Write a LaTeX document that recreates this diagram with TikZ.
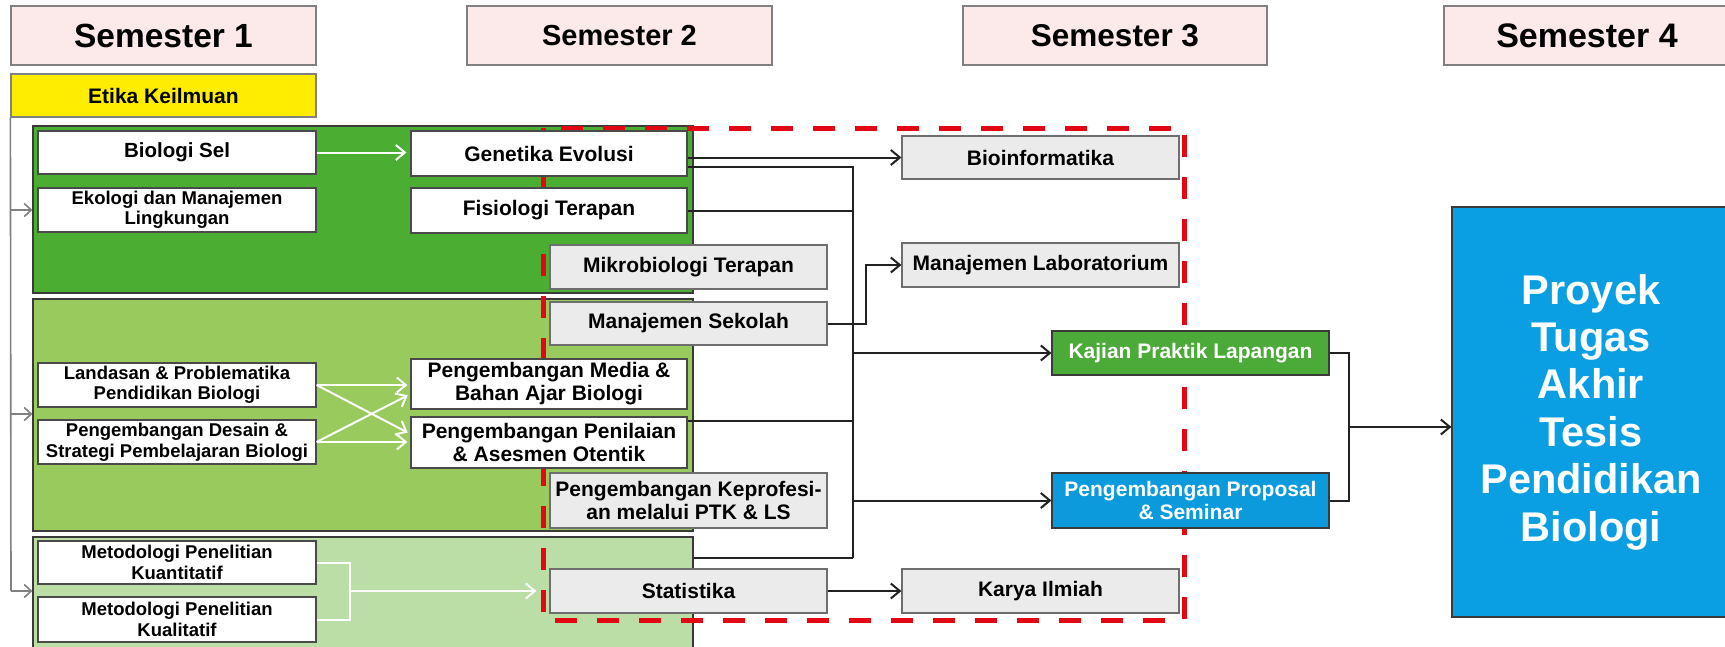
\documentclass[tikz,border=0pt]{standalone}
\usepackage{fontspec}
\setmainfont{Liberation Sans}
\usetikzlibrary{arrows.meta}
\definecolor{hdrfill}{HTML}{FCE9E9}
\definecolor{hdrline}{HTML}{808080}
\definecolor{yel}{HTML}{FFED00}
\definecolor{gone}{HTML}{4BAE32}
\definecolor{gtwo}{HTML}{99CA5D}
\definecolor{gthree}{HTML}{BBDDA6}
\definecolor{grpline}{HTML}{3A3A3A}
\definecolor{boxline}{HTML}{4A4A4A}
\definecolor{gboxfill}{HTML}{EBEBEB}
\definecolor{gboxline}{HTML}{6E6E6E}
\definecolor{kajfill}{HTML}{4CAA38}
\definecolor{propfill}{HTML}{0B9ADB}
\definecolor{bigfill}{HTML}{0A9EE2}
\definecolor{dashred}{HTML}{E30613}
\definecolor{lineblack}{HTML}{222222}
\definecolor{leftgray}{HTML}{808080}
\tikzset{
 hdr/.style={draw=hdrline, fill=hdrfill, line width=1.2pt, minimum height=59pt, inner sep=0pt},
 wbox/.style={draw=boxline, fill=white, line width=1.2pt, inner sep=0pt, align=center},
 gbox/.style={draw=gboxline, fill=gboxfill, line width=1.2pt, inner sep=0pt, align=center},
 grp/.style={draw=grpline, line width=1.2pt, inner sep=0pt},
 conn/.style={draw=lineblack, line width=2pt},
 arr/.style={conn, -{Straight Barb[length=9pt,width=15pt]}},
 wline/.style={draw=white, line width=2pt},
 warr/.style={wline, -{Straight Barb[length=9pt,width=15pt]}},
 gline/.style={draw=leftgray, line width=1.6pt},
 garr/.style={gline, -{Straight Barb[length=7pt,width=13pt]}},
 reddash/.style={draw=dashred, line width=5pt, dash pattern=on 22pt off 20pt},
 fA/.style={font=\bfseries\fontsize{21}{23}\selectfont},
 fB/.style={font=\bfseries\fontsize{18.5}{20.5}\selectfont},
 colL/.style={minimum width=278pt},
 colM/.style={minimum width=276pt},
 colG/.style={minimum width=277pt},
}
\begin{document}
\begin{tikzpicture}[x=1pt,y=-1pt]
\useasboundingbox (0,0) rectangle (1725,646);
\fill[white] (0,0) rectangle (1725,646);
% headers
\node[hdr, minimum width=305pt, font=\bfseries\fontsize{33.5}{36}\selectfont] (s1) at (163.5,35.5) {Semester 1};
\node[hdr, minimum width=305pt, font=\bfseries\fontsize{29}{32}\selectfont] (s2) at (619.5,35.5) {Semester 2};
\node[hdr, minimum width=304pt, font=\bfseries\fontsize{31.5}{34}\selectfont] (s3) at (1115,35.5) {Semester 3};
\node[hdr, minimum width=286pt, font=\bfseries\fontsize{34}{36}\selectfont] (s4) at (1587,35.5) {Semester 4};
\node[draw=hdrline, fill=yel, line width=1.2pt, inner sep=0pt, minimum width=305pt, minimum height=43pt, fA] (etika) at (163.5,95.5) {Etika Keilmuan};
% groups
\node[grp, fill=gone, minimum width=660pt, minimum height=167pt] (g1) at (363,209.5) {};
\node[grp, fill=gtwo, minimum width=660pt, minimum height=232pt] (g2) at (363,415) {};
\node[grp, fill=gthree, minimum width=660pt, minimum height=113pt] (g3) at (363,593.5) {};
% red dashed frame
\draw[reddash] (543,128) rectangle (1184,620);
% left column
\node[wbox, colL, minimum height=43pt, font=\bfseries\fontsize{20.5}{22}\selectfont] (biosel) at (177,152.5) {Biologi Sel};
\node[wbox, colL, minimum height=44pt, fB] (ekologi) at (177,210) {Ekologi dan Manajemen\\Lingkungan};
\node[wbox, colL, minimum height=44pt, fB] (landasan) at (177,385) {Landasan \& Problematika\\Pendidikan Biologi};
\node[wbox, colL, minimum height=44pt, fB] (desain) at (177,442) {Pengembangan Desain \&\\Strategi Pembelajaran Biologi};
\node[wbox, colL, minimum height=43pt, fB] (kuan) at (177,562.5) {Metodologi Penelitian\\Kuantitatif};
\node[wbox, colL, minimum height=45pt, fB] (kual) at (177,619.5) {Metodologi Penelitian\\Kualitatif};
% middle column
\node[wbox, colM, minimum height=45pt, fA] (genetika) at (549,153.5) {Genetika Evolusi};
\node[wbox, colM, minimum height=45pt, fA] (fisiologi) at (549,210.5) {Fisiologi Terapan};
\node[wbox, colM, minimum height=50pt, fA] (media) at (549,384) {Pengembangan Media \&\\Bahan Ajar Biologi};
\node[wbox, colM, minimum height=51pt, fA] (penilaian) at (549,442.5) {Pengembangan Penilaian\\\& Asesmen Otentik};
% gray column
\node[gbox, colG, minimum height=44pt, fA] (mikro) at (688.5,267) {Mikrobiologi Terapan};
\node[gbox, colG, minimum height=43pt, fA] (sekolah) at (688.5,323.5) {Manajemen Sekolah};
\node[gbox, colG, minimum height=55pt, fA] (keprof) at (688.5,500.5) {Pengembangan Keprofesi-\\an melalui PTK \& LS};
\node[gbox, colG, minimum height=44pt, fA] (statistika) at (688.5,591) {Statistika};
% semester 3 column
\node[gbox, colG, minimum height=43pt, fA] (bioinf) at (1040.5,157.5) {Bioinformatika};
\node[gbox, colG, minimum height=44pt, fA] (lab) at (1040.5,265) {Manajemen Laboratorium};
\node[gbox, colG, minimum height=44pt, fA] (karya) at (1040.5,591) {Karya Ilmiah};
\node[draw=grpline, fill=kajfill, line width=1.2pt, inner sep=0pt, colG, minimum height=44pt, fA, text=white, align=center] (kajian) at (1190.5,353) {Kajian Praktik Lapangan};
\node[draw=grpline, fill=propfill, line width=1.2pt, inner sep=0pt, colG, minimum height=55pt, fA, text=white, align=center] (proposal) at (1190.5,500.5) {Pengembangan Proposal\\\& Seminar};
% big box
\node[draw=grpline, fill=bigfill, line width=1.2pt, inner sep=0pt, minimum width=278pt, minimum height=410pt, text=white, align=center, font=\bfseries\fontsize{41.5}{47.4}\selectfont] (big) at (1591,412) {Proyek\\Tugas\\Akhir\\Tesis\\Pendidikan\\Biologi};
% coordinates
\coordinate (trunktop) at (853,167);
\coordinate (trunkbot) at (853,558);
\coordinate (pentap) at (853,421);
\coordinate (labx) at (866,300);
\coordinate (jx) at (1349,427);
\coordinate (kj) at (350,591);
\coordinate (a2) at (11,414);
\coordinate (a3) at (11,591);
% left gray line
\draw[gline] (etika.south west) -- (a3);
\draw[garr] (etika.south west |- ekologi.west) -- (g1.west |- ekologi.west);
\draw[garr] (a2) -- (g2.west |- a2);
\draw[garr] (a3) -- (g3.west |- a3);
% white connectors
\draw[warr, shorten >=4pt] (biosel.east) -- (genetika.west |- biosel.east);
\draw[warr, shorten >=3pt] (landasan.east) -- (media.west |- landasan.east);
\draw[warr, shorten >=3pt] (landasan.east) -- ([yshift=8.5pt]penilaian.west);
\draw[warr, shorten >=3pt] (desain.east) -- ([yshift=-10pt]media.west);
\draw[warr, shorten >=3pt] (desain.east) -- (penilaian.west |- desain.east);
\draw[wline] (kuan.east) -| (kj) |- (kual.east);
\draw[warr, shorten >=13pt] (kj) -- (statistika.west);
% black connectors
\draw[arr] (genetika.east |- bioinf.west) -- (bioinf.west);
\draw[conn] (genetika.east |- trunktop) -- (trunktop) -- (trunkbot);
\draw[conn] (fisiologi.east) -- (fisiologi.east -| trunktop);
\draw[conn] (penilaian.east |- pentap) -- (pentap);
\draw[conn] (g3.east |- trunkbot) -- (trunkbot);
\draw[arr] (kajian.west -| trunktop) -- (kajian.west);
\draw[arr] (proposal.west -| trunktop) -- (proposal.west);
\draw[arr] (sekolah.east) -- (sekolah.east -| labx) |- (lab.west);
\draw[arr] (statistika.east) -- (karya.west);
\draw[conn] (kajian.east) -| (jx) |- (proposal.east);
\draw[arr] (jx) -- (big.west |- jx);
\end{tikzpicture}
\end{document}
